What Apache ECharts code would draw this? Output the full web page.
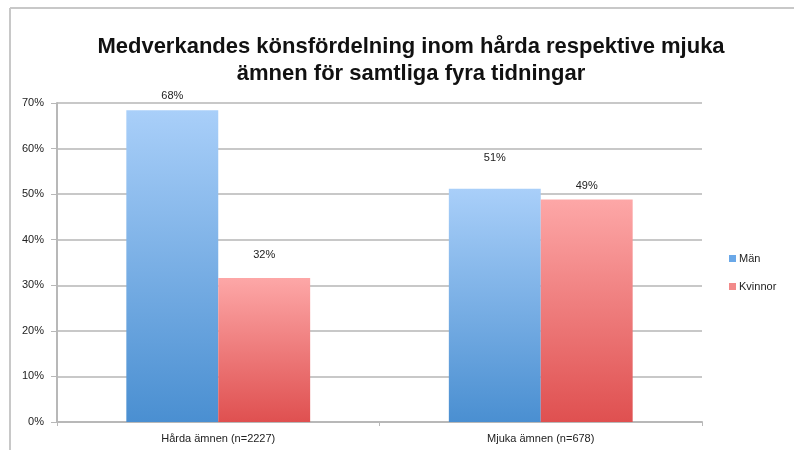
<!DOCTYPE html>
<html lang="sv">
<head>
    <meta charset="UTF-8">
    <title>Medverkandes könsfördelning</title>
    <script src="https://cdn.jsdelivr.net/npm/echarts@6/dist/echarts.min.js"></script>
    <style>
        html, body { margin: 0; padding: 0; background: #fff; }
        #main { width: 794px; height: 450px; }
    </style>
</head>
<body>
<div id="main"></div>
<script>
    // data
    const categories = ['Hårda ämnen (n=2227)', 'Mjuka ämnen (n=678)'];
    const seriesNames = ['Män', 'Kvinnor'];
    const manValues = [68.4, 51.2];
    const kvinnorValues = [31.6, 48.8];
    const yTicks = [0, 10, 20, 30, 40, 50, 60, 70];

    // label distances above each bar (excel put them a bit unevenly)
    const manLabelDist = [9, 25];
    const kvinnorLabelDist = [18, 8];

    const font = "'Liberation Sans', Arial, sans-serif";

    function grad(top, bottom) {
        return new echarts.graphic.LinearGradient(0, 0, 0, 1, [
            {offset: 0, color: top},
            {offset: 1, color: bottom}
        ]);
    }

    function items(values, dists) {
        return values.map((v, i) => ({value: v, label: {distance: dists[i]}}));
    }

    const barLabel = {
        show: true,
        position: 'top',
        fontFamily: font,
        fontSize: 11,
        color: '#222',
        formatter: p => Math.round(p.value) + '%'
    };

    let chart = echarts.init(document.getElementById('main'), null, {renderer: 'canvas'});
    let option = {
        backgroundColor: '#ffffff',
        animation: false,
        title: {
            text: 'Medverkandes könsfördelning inom hårda respektive mjuka\nämnen för samtliga fyra tidningar',
            left: 406,
            textAlign: 'center',
            top: 28,
            textStyle: {
                fontFamily: font,
                fontWeight: 'bold',
                fontSize: 22,
                lineHeight: 27,
                color: '#111'
            }
        },
        graphic: [
            // chart frame, top and left edges
            {type: 'line', shape: {x1: 10, y1: 8, x2: 794, y2: 8}, style: {stroke: '#c8c8c8', lineWidth: 2}},
            {type: 'line', shape: {x1: 10, y1: 8, x2: 10, y2: 450}, style: {stroke: '#c8c8c8', lineWidth: 2}}
        ],
        legend: {
            orient: 'vertical',
            left: 724,
            top: 248,
            itemWidth: 7,
            itemHeight: 7,
            itemGap: 17,
            icon: 'rect',
            textStyle: {fontFamily: font, fontSize: 11, color: '#222', padding: [0, 0, 0, -2]},
            data: [
                {name: seriesNames[0], itemStyle: {color: '#6aa8e8'}},
                {name: seriesNames[1], itemStyle: {color: '#f28a8a'}}
            ]
        },
        grid: {left: 57, right: 92, top: 103, bottom: 28, containLabel: false},
        xAxis: {
            type: 'category',
            data: categories,
            axisLine: {lineStyle: {color: '#b8b8b8', width: 2}},
            axisTick: {show: true, length: 4, lineStyle: {color: '#b8b8b8'}},
            axisLabel: {fontFamily: font, fontSize: 11, color: '#222', margin: 11}
        },
        yAxis: {
            type: 'value',
            min: yTicks[0],
            max: yTicks[yTicks.length - 1],
            interval: 10,
            axisLine: {show: true, lineStyle: {color: '#b8b8b8', width: 2}},
            axisTick: {show: true, length: 6, lineStyle: {color: '#b8b8b8'}},
            axisLabel: {fontFamily: font, fontSize: 11, color: '#222', margin: 13, formatter: '{value}%'},
            splitLine: {lineStyle: {color: '#c8c8c8', width: 2}}
        },
        series: [
            {
                name: seriesNames[0],
                type: 'bar',
                data: items(manValues, manLabelDist),
                barGap: '0%',
                barCategoryGap: '43%',
                itemStyle: {color: grad('#a9cff9', '#4a8fd1')},
                label: barLabel
            },
            {
                name: seriesNames[1],
                type: 'bar',
                data: items(kvinnorValues, kvinnorLabelDist),
                barGap: '0%',
                barCategoryGap: '43%',
                itemStyle: {color: grad('#fda7a7', '#df5050')},
                label: barLabel
            }
        ]
    };
    chart.setOption(option);
</script>
</body>
</html>
